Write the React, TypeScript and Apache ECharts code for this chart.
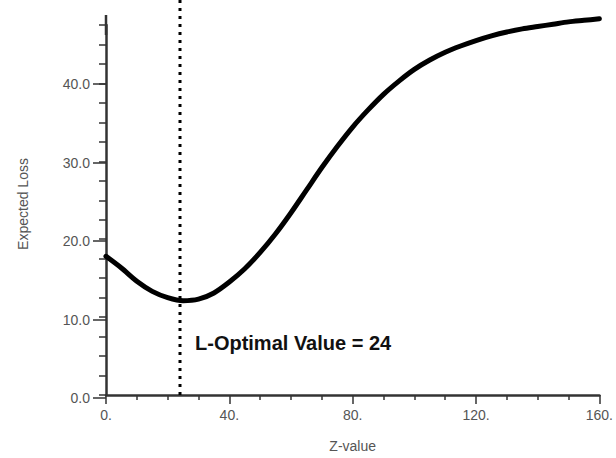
import React, { useEffect, useRef } from "react";
import * as echarts from "echarts";

const zValues = [0, 5, 10, 15, 20, 25, 30, 35, 40, 45, 50, 55, 60, 65, 70, 75, 80, 85, 90, 95, 100, 105, 110, 115, 120, 125, 130, 135, 140, 145, 150, 155, 160];
const expectedLoss = [17.8, 16.3, 14.6, 13.3, 12.5, 12.1, 12.3, 13.1, 14.5, 16.2, 18.3, 20.7, 23.4, 26.3, 29.2, 31.9, 34.4, 36.6, 38.6, 40.3, 41.8, 43.0, 44.0, 44.8, 45.5, 46.1, 46.6, 47.0, 47.3, 47.6, 47.9, 48.1, 48.3];
const optimalZ = 24;
const optimalLineY = [0, 51];
const annotationText = "L-Optimal Value = 24";
const xTicks = [0, 40, 80, 120, 160];
const yTicks = [0, 10, 20, 30, 40];

const FONT = "Liberation Sans, Arial, Helvetica, sans-serif";
const AXIS_COLOR = "#333";
const LABEL_COLOR = "#555";

export default function App() {
  const ref = useRef<HTMLDivElement>(null);
  useEffect(() => {
    if (!ref.current) return;
    const chart = echarts.init(ref.current, null, { renderer: "svg" });
    const data = zValues.map((z, i) => [z, expectedLoss[i]]);
    chart.setOption({
      animation: false,
      backgroundColor: "#fff",
      grid: [
        { left: 106, right: 12, top: 25, bottom: 60 },
        { left: 106, right: 12, top: 84, bottom: 60 },
      ],
      xAxis: [
        {
          gridIndex: 0,
          type: "value",
          min: xTicks[0],
          max: xTicks[xTicks.length - 1],
          interval: 40,
          name: "Z-value",
          nameLocation: "middle",
          nameGap: 44,
          nameTextStyle: { color: LABEL_COLOR, fontSize: 14, fontFamily: FONT },
          axisLine: { lineStyle: { color: AXIS_COLOR, width: 2.5 } },
          axisTick: { length: 9, lineStyle: { color: AXIS_COLOR, width: 1.5 } },
          minorTick: { show: true, splitNumber: 4, length: 5, lineStyle: { color: AXIS_COLOR, width: 1.5 } },
          splitLine: { show: false },
          axisLabel: {
            margin: 13,
            color: LABEL_COLOR,
            fontSize: 14,
            fontFamily: FONT,
            formatter: (v: number) => `${v}.`,
          },
        },
        { gridIndex: 1, type: "value", min: 0, max: 160, show: false },
      ],
      yAxis: [
        {
          gridIndex: 0,
          type: "value",
          min: 0,
          max: 47.5,
          interval: 2.5,
          name: "Expected Loss",
          nameLocation: "middle",
          nameGap: 76,
          nameTextStyle: { color: LABEL_COLOR, fontSize: 14, fontFamily: FONT, padding: [0, 0, 0, 12] },
          axisLine: {
            show: true,
            symbol: ["none", "rect"],
            symbolSize: [2.5, 20],
            lineStyle: { color: AXIS_COLOR, width: 2.5 },
          },
          axisTick: { show: true, length: 7, lineStyle: { color: AXIS_COLOR, width: 1.5 } },
          splitLine: { show: false },
          axisLabel: { show: false },
        },
        {
          gridIndex: 1,
          type: "value",
          min: yTicks[0],
          max: yTicks[yTicks.length - 1],
          interval: 10,
          axisLine: { show: false },
          axisTick: { show: true, length: 13, lineStyle: { color: AXIS_COLOR, width: 1.5 } },
          splitLine: { show: false },
          axisLabel: {
            margin: 16,
            color: LABEL_COLOR,
            fontSize: 14,
            fontFamily: FONT,
            padding: [0, 0, 9, 0],
            formatter: (v: number) => v.toFixed(1),
          },
        },
      ],
      graphic: [
        {
          type: "text",
          left: 195,
          top: 333,
          style: {
            text: annotationText,
            fill: "#111",
            font: `bold 20px ${FONT}`,
          },
        },
      ],
      series: [
        {
          type: "line",
          name: "L-Optimal",
          xAxisIndex: 0,
          yAxisIndex: 0,
          data: optimalLineY.map((y) => [optimalZ, y]),
          showSymbol: false,
          clip: false,
          silent: true,
          lineStyle: { color: "#000", width: 3, type: [3, 5], cap: "butt" },
        },
        {
          type: "line",
          name: "Expected Loss",
          xAxisIndex: 0,
          yAxisIndex: 0,
          data,
          smooth: 0.3,
          showSymbol: false,
          clip: false,
          lineStyle: { color: "#000", width: 5, cap: "round", join: "round" },
        },
      ],
    });
    return () => chart.dispose();
  }, []);
  return (
    <div
      ref={ref}
      style={{ position: "fixed", left: 0, top: 0, width: 616, height: 458 }}
    />
  );
}
